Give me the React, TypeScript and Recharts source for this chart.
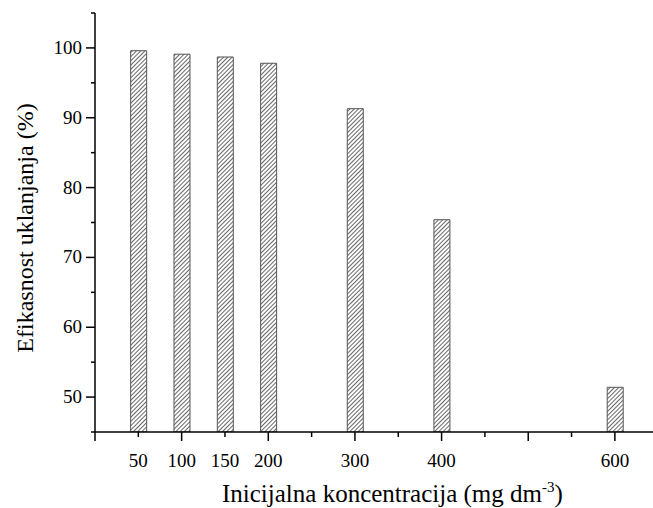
import { BarChart, Bar, XAxis, YAxis, Label } from 'recharts';

const concentrations = [50, 100, 150, 200, 300, 400, 600];
const efficiency = [99.6, 99.1, 98.7, 97.8, 91.3, 75.4, 51.4];

const xTicks = [0, 50, 100, 150, 200, 250, 300, 350, 400, 450, 500, 550, 600];
const xLabels = [50, 100, 150, 200, 300, 400, 600];
const yTicks = [45, 50, 55, 60, 65, 70, 75, 80, 85, 90, 95, 100, 105];
const yLabels = [50, 60, 70, 80, 90, 100];

const data = concentrations.map((c, i) => ({ conc: c, eff: efficiency[i] }));

const FONT = '"Liberation Serif", "Times New Roman", serif';

const XTick = (props: any) => {
    const { x, y, payload } = props;
    const v = payload.value;
    const major = v % 100 === 0;
    return (
        <g>
            <line x1={x} x2={x} y1={y} y2={y + (major ? 9 : 5)} stroke="#000" strokeWidth={1.5} />
            {xLabels.includes(v) && (
                <text x={x} y={y + 35} textAnchor="middle" fontSize={19} fontFamily={FONT} fill="#000">
                    {v}
                </text>
            )}
        </g>
    );
};

const YTick = (props: any) => {
    const { x, y, payload } = props;
    const v = payload.value;
    const major = v % 10 === 0;
    return (
        <g>
            <line x1={x} x2={x - (major ? 9 : 4)} y1={y} y2={y} stroke="#000" strokeWidth={1.5} />
            {yLabels.includes(v) && (
                <text x={x - 13} y={y + 6} textAnchor="end" fontSize={19} fontFamily={FONT} fill="#000">
                    {v}
                </text>
            )}
        </g>
    );
};

const XTitle = (props: any) => {
    const { viewBox } = props;
    return (
        <text
            x={222}
            y={viewBox.y + 70}
            textAnchor="start"
            fontSize={25}
            fontFamily={FONT}
            fill="#000"
        >
            Inicijalna koncentracija (mg dm
            <tspan fontSize={15} dy={-10}>-3</tspan>
            <tspan dy={10}>)</tspan>
        </text>
    );
};

const YTitle = () => {
    const cx = 33;
    const cy = 228;
    return (
        <text
            x={cx}
            y={cy}
            transform={`rotate(-90, ${cx}, ${cy})`}
            textAnchor="middle"
            fontSize={24}
            fontFamily={FONT}
            fill="#000"
        >
            Efikasnost uklanjanja (%)
        </text>
    );
};

export default function App() {
    return (
        <div style={{ position: 'absolute', left: 0, top: 0, background: '#fff' }}>
            <BarChart
                width={653}
                height={508}
                data={data}
                margin={{ top: 13, right: 0, left: 0, bottom: 0 }}
            >
                <defs>
                    <pattern
                        id="hatch"
                        width={3}
                        height={3}
                        patternUnits="userSpaceOnUse"
                        patternTransform="rotate(45)"
                    >
                        <rect width={3} height={3} fill="#fff" />
                        <line x1={0} y1={0} x2={0} y2={3} stroke="#000" strokeWidth={1.2} />
                    </pattern>
                </defs>
                <XAxis
                    dataKey="conc"
                    type="number"
                    domain={[0, 644]}
                    ticks={xTicks}
                    interval={0}
                    height={76}
                    tickSize={0}
                    tickMargin={0}
                    tickLine={false}
                    tick={<XTick />}
                    axisLine={{ stroke: '#000', strokeWidth: 1.5 }}
                    allowDataOverflow
                >
                    <Label content={<XTitle />} />
                </XAxis>
                <YAxis
                    type="number"
                    domain={[45, 105]}
                    ticks={yTicks}
                    interval={0}
                    width={95}
                    tickSize={0}
                    tickMargin={0}
                    tickLine={false}
                    tick={<YTick />}
                    axisLine={{ stroke: '#000', strokeWidth: 1.5 }}
                    allowDataOverflow
                >
                    <Label content={<YTitle />} />
                </YAxis>
                <Bar
                    dataKey="eff"
                    barSize={16}
                    fill="url(#hatch)"
                    stroke="#555"
                    strokeWidth={1}
                    isAnimationActive={false}
                />
            </BarChart>
        </div>
    );
}
